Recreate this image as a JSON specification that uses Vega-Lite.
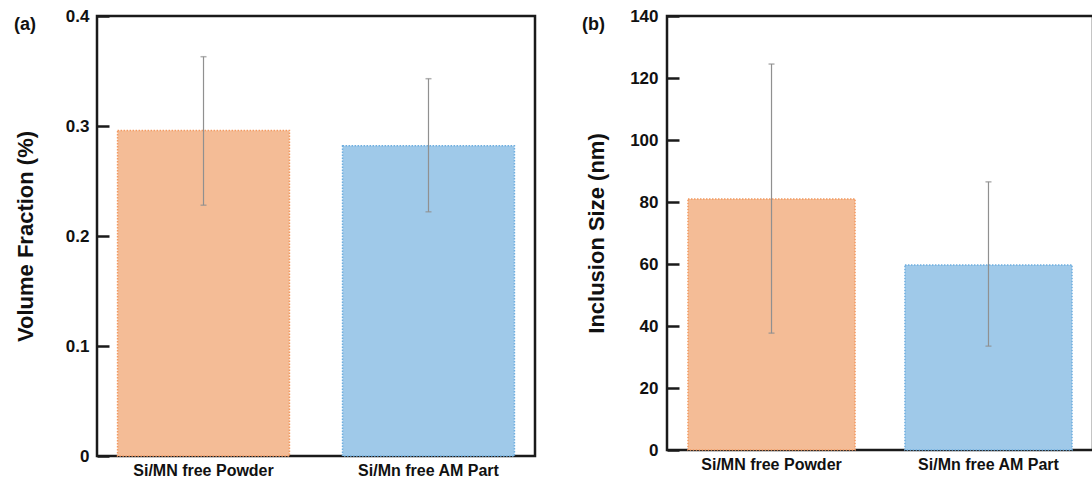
{
  "$schema": "https://vega.github.io/schema/vega-lite/v6.json",
  "padding": {"left": 12, "top": 5, "right": 0, "bottom": 0},
  "spacing": 43,
  "datasets": {
    "vf": [
      {"sample": "Si/MN free Powder", "value": 0.296, "lo": 0.228, "hi": 0.363},
      {"sample": "Si/Mn free AM Part", "value": 0.282, "lo": 0.222, "hi": 0.343}
    ],
    "size": [
      {"sample": "Si/MN free Powder", "value": 81.0, "lo": 37.7, "hi": 124.5},
      {"sample": "Si/Mn free AM Part", "value": 59.7, "lo": 33.5, "hi": 86.5}
    ]
  },
  "config": {
    "font": "Liberation Sans",
    "view": {"stroke": "#1a1a1a", "strokeWidth": 2.5},
    "axis": {"grid": false, "labelFontWeight": "bold", "labelColor": "#111", "titleColor": "#111", "titleFontWeight": "bold"},
    "axisY": {"ticks": true, "tickSize": 12, "tickWidth": 2.5, "tickColor": "#1a1a1a", "tickOpacity": 1, "offset": -12, "zindex": 1},
    "title": {"fontWeight": "bold", "fontSize": 18, "color": "#111"}
  },
  "hconcat": [
    {
      "width": 438,
      "height": 440,
      "title": {"text": "(a)", "anchor": "start", "frame": "group", "dx": -83, "dy": 27, "offset": 0},
      "data": {"name": "vf"},
      "encoding": {
        "x": {"field": "sample", "type": "nominal", "sort": null,
              "scale": {"paddingInner": 0.236, "paddingOuter": 0.0914},
              "axis": {"title": null, "labelAngle": 0, "labelFontSize": 16, "ticks": false, "domain": false, "labelPadding": 6}}
      },
      "layer": [
        {
          "mark": {"type": "bar", "strokeWidth": 1.5, "strokeDash": [1.5, 1.5]},
          "encoding": {
            "y": {"field": "value", "type": "quantitative", "title": "Volume Fraction (%)",
                  "scale": {"domain": [0, 0.4], "nice": false},
                  "axis": {"values": [0, 0.1, 0.2, 0.3, 0.4], "format": "~g", "labelFontSize": 17, "titleFontSize": 22,
                           "domain": false, "labelPadding": 8,
                           "titleX": -84, "titleBaseline": "middle"}},
            "color": {"field": "sample", "type": "nominal", "sort": null, "legend": null,
                      "scale": {"range": ["#F4BC96", "#9FC9E9"]}},
            "stroke": {"field": "sample", "type": "nominal", "sort": null, "legend": null,
                       "scale": {"range": ["#F29A62", "#6FAEDF"]}}
          }
        },
        {
          "mark": {"type": "rule", "color": "#909090", "strokeWidth": 1.2},
          "encoding": {
            "y": {"field": "lo", "type": "quantitative", "title": "Volume Fraction (%)"},
            "y2": {"field": "hi"}
          }
        },
        {
          "mark": {"type": "tick", "color": "#909090", "size": 6, "thickness": 1.5, "orient": "horizontal"},
          "encoding": {"y": {"field": "hi", "type": "quantitative", "title": "Volume Fraction (%)"}}
        },
        {
          "mark": {"type": "tick", "color": "#909090", "size": 6, "thickness": 1.5, "orient": "horizontal"},
          "encoding": {"y": {"field": "lo", "type": "quantitative", "title": "Volume Fraction (%)"}}
        }
      ]
    },
    {
      "width": 426,
      "height": 434,
      "title": {"text": "(b)", "anchor": "start", "frame": "group", "dx": -85, "dy": 27, "offset": 0},
      "data": {"name": "size"},
      "encoding": {
        "x": {"field": "sample", "type": "nominal", "sort": null,
              "scale": {"paddingInner": 0.23, "paddingOuter": 0.0967},
              "axis": {"title": null, "labelAngle": 0, "labelFontSize": 16, "ticks": false, "domain": false, "labelPadding": 6}}
      },
      "layer": [
        {
          "mark": {"type": "bar", "strokeWidth": 1.5, "strokeDash": [1.5, 1.5]},
          "encoding": {
            "y": {"field": "value", "type": "quantitative", "title": "Inclusion Size (nm)",
                  "scale": {"domain": [0, 140], "nice": false},
                  "axis": {"values": [0, 20, 40, 60, 80, 100, 120, 140], "labelFontSize": 17, "titleFontSize": 22,
                           "domain": false, "labelPadding": 9,
                           "titleX": -83, "titleBaseline": "middle"}},
            "color": {"field": "sample", "type": "nominal", "sort": null, "legend": null,
                      "scale": {"range": ["#F4BC96", "#9FC9E9"]}},
            "stroke": {"field": "sample", "type": "nominal", "sort": null, "legend": null,
                       "scale": {"range": ["#F29A62", "#6FAEDF"]}}
          }
        },
        {
          "mark": {"type": "rule", "color": "#909090", "strokeWidth": 1.2},
          "encoding": {
            "y": {"field": "lo", "type": "quantitative", "title": "Inclusion Size (nm)"},
            "y2": {"field": "hi"}
          }
        },
        {
          "mark": {"type": "tick", "color": "#909090", "size": 6, "thickness": 1.5, "orient": "horizontal"},
          "encoding": {"y": {"field": "hi", "type": "quantitative", "title": "Inclusion Size (nm)"}}
        },
        {
          "mark": {"type": "tick", "color": "#909090", "size": 6, "thickness": 1.5, "orient": "horizontal"},
          "encoding": {"y": {"field": "lo", "type": "quantitative", "title": "Inclusion Size (nm)"}}
        }
      ]
    }
  ]
}
